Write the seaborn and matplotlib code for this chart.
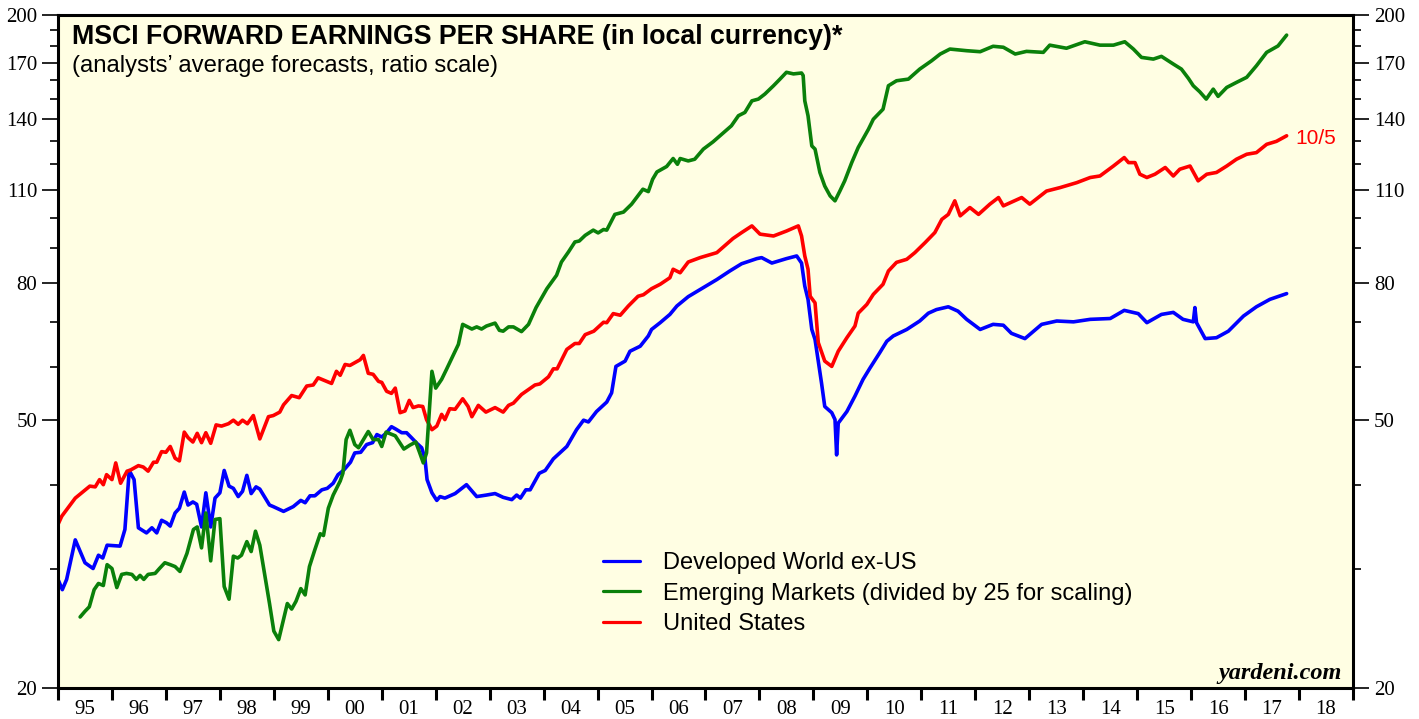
import numpy as np
import pandas as pd
import matplotlib
matplotlib.use("Agg")
import matplotlib.pyplot as plt
import seaborn as sns
from matplotlib.ticker import FixedLocator, NullFormatter, FixedFormatter
from matplotlib.lines import Line2D

# ---------------- data ----------------
us_year = [1995.00,1995.07,1995.32,1995.59,1995.69,1995.77,1995.84,1995.90,1996.00,1996.07,
           1996.16,1996.28,1996.33,1996.49,1996.58,1996.67,1996.77,1996.83,1996.92,1997.00,
           1997.08,1997.17,1997.25,1997.34,1997.41,1997.50,1997.58,1997.66,1997.74,1997.83,
           1997.93,1998.03,1998.16,1998.25,1998.34,1998.42,1998.51,1998.62,1998.74,1998.90,
           1998.99,1999.11,1999.18,1999.33,1999.47,1999.61,1999.73,1999.82,2000.07,2000.16,
           2000.23,2000.32,2000.41,2000.60,2000.66,2000.75,2000.84,2000.94,2001.00,2001.09,
           2001.18,2001.25,2001.34,2001.43,2001.51,2001.58,2001.68,2001.76,2001.83,2001.93,
           2002.02,2002.11,2002.17,2002.26,2002.36,2002.50,2002.60,2002.67,2002.79,2002.93,
           2003.10,2003.25,2003.35,2003.44,2003.59,2003.84,2003.93,2004.09,2004.18,2004.25,
           2004.43,2004.58,2004.66,2004.77,2004.93,2005.11,2005.17,2005.29,2005.42,2005.57,
           2005.75,2005.85,2006.00,2006.16,2006.34,2006.40,2006.53,2006.68,2006.90,2007.21,
           2007.39,2007.51,2007.67,2007.86,2008.01,2008.26,2008.50,2008.72,2008.78,2008.84,
           2008.90,2008.94,2009.03,2009.09,2009.21,2009.34,2009.46,2009.62,2009.77,2009.83,
           2009.99,2010.11,2010.29,2010.39,2010.54,2010.73,2010.88,2011.07,2011.25,2011.38,
           2011.50,2011.62,2011.72,2011.90,2012.06,2012.27,2012.43,2012.52,2012.86,2013.01,
           2013.32,2013.57,2013.88,2014.13,2014.31,2014.56,2014.76,2014.84,2014.96,2015.05,
           2015.18,2015.33,2015.52,2015.67,2015.79,2015.98,2016.13,2016.29,2016.47,2016.66,
           2016.84,2017.03,2017.21,2017.40,2017.58,2017.77]
us_eps = [35.0,36.0,38.3,39.9,39.8,40.8,40.1,41.5,40.8,43.2,
          40.3,42.0,42.1,42.8,42.6,42.0,43.3,43.3,44.9,44.8,
          45.7,43.9,43.5,48.0,47.1,46.4,47.8,46.3,47.9,46.2,
          49.2,49.0,49.4,50.0,49.3,50.0,49.4,50.8,46.9,50.6,
          50.8,51.4,52.7,54.4,54.0,56.2,56.4,57.8,56.7,59.1,
          58.3,60.5,60.3,61.5,62.4,58.7,58.5,57.1,56.9,55.2,
          54.8,55.8,51.3,51.6,53.5,52.2,52.5,52.4,50.1,48.4,
          49.0,51.0,50.1,52.0,51.9,53.8,52.4,50.6,52.6,51.4,
          52.2,51.4,52.6,53.0,54.6,56.4,56.6,58.0,59.6,59.6,
          63.7,65.0,65.0,67.0,67.8,69.9,69.8,72.0,71.6,73.9,
          76.4,76.8,78.4,79.6,81.4,83.8,82.8,85.9,87.2,88.7,
          91.3,93.1,95.0,97.2,94.5,93.9,95.5,97.2,93.9,87.7,
          83.8,76.4,74.7,65.2,61.2,60.1,63.3,66.3,69.0,72.1,
          74.3,76.9,79.6,83.3,85.8,86.7,88.7,91.8,95.0,99.4,
          101.1,105.9,100.6,103.5,101.1,104.7,107.1,104.1,107.1,104.7,
          109.5,110.8,112.7,114.7,115.3,119.3,122.8,120.7,120.7,116.0,
          114.7,116.0,118.7,115.3,118.0,119.3,113.4,116.0,116.7,119.3,
          122.1,124.2,124.9,128.5,129.8,132.3]

dev_year = [1995.00,1995.08,1995.16,1995.32,1995.50,1995.65,1995.75,1995.83,1995.91,1996.15,
            1996.24,1996.32,1996.41,1996.49,1996.64,1996.74,1996.83,1996.92,1997.01,1997.08,
            1997.17,1997.25,1997.34,1997.41,1997.50,1997.57,1997.66,1997.74,1997.83,1997.91,
            1998.00,1998.08,1998.17,1998.25,1998.34,1998.42,1998.50,1998.58,1998.67,1998.74,
            1998.92,1998.99,1999.18,1999.36,1999.50,1999.58,1999.67,1999.76,1999.89,1999.99,
            2000.10,2000.19,2000.29,2000.42,2000.50,2000.61,2000.72,2000.83,2000.91,2001.00,
            2001.09,2001.18,2001.26,2001.37,2001.46,2001.55,2001.65,2001.74,2001.80,2001.84,
            2001.93,2002.02,2002.08,2002.17,2002.36,2002.57,2002.76,2002.94,2003.10,2003.25,
            2003.41,2003.50,2003.57,2003.67,2003.75,2003.92,2004.03,2004.18,2004.43,2004.61,
            2004.74,2004.83,2004.98,2005.17,2005.26,2005.34,2005.51,2005.60,2005.79,2005.94,
            2006.00,2006.16,2006.34,2006.47,2006.68,2006.96,2007.21,2007.45,2007.67,2007.95,
            2008.04,2008.23,2008.50,2008.69,2008.78,2008.84,2008.90,2008.97,2009.03,2009.15,
            2009.21,2009.34,2009.40,2009.43,2009.46,2009.62,2009.77,2009.92,2010.05,2010.23,
            2010.36,2010.48,2010.73,2010.97,2011.13,2011.28,2011.50,2011.68,2011.84,2012.09,
            2012.33,2012.52,2012.67,2012.92,2013.23,2013.51,2013.82,2014.13,2014.50,2014.76,
            2015.02,2015.18,2015.45,2015.67,2015.85,2016.04,2016.07,2016.10,2016.26,2016.47,
            2016.69,2016.97,2017.21,2017.46,2017.77]
dev_eps = [29.0,28.0,29.0,33.2,30.7,30.1,31.5,31.2,32.6,32.5,
           34.4,42.1,40.8,34.6,34.0,34.6,34.0,35.5,35.2,34.8,
           36.4,37.0,39.1,37.4,37.8,37.5,34.7,39.0,34.7,38.3,
           39.0,42.1,39.9,39.6,38.5,39.2,41.4,38.9,39.8,39.5,
           37.4,37.2,36.6,37.2,38.0,37.7,38.6,38.6,39.4,39.6,
           40.3,41.5,42.1,43.3,44.7,44.8,46.0,46.3,47.6,47.2,
           47.9,48.9,48.5,47.9,47.9,47.1,46.2,45.5,43.9,40.8,
           39.0,38.0,38.5,38.3,38.9,40.1,38.5,38.7,38.9,38.4,
           38.1,38.7,38.3,39.4,39.4,41.7,42.1,43.8,45.7,48.4,
           50.0,49.7,51.5,53.2,54.9,60.1,61.2,63.3,64.4,66.7,
           68.2,69.8,71.8,73.9,76.3,78.7,80.9,83.3,85.4,86.9,
           87.2,85.6,86.9,87.7,85.6,79.1,75.6,68.2,65.9,56.8,
           52.4,51.3,50.1,44.4,49.5,51.5,54.3,57.5,59.8,63.0,
           65.5,66.7,68.2,70.2,72.1,73.0,73.7,72.6,70.6,68.2,
           69.4,69.2,67.3,66.1,69.4,70.2,70.0,70.6,70.8,72.8,
           72.0,69.8,71.8,72.3,70.6,70.0,73.5,69.8,66.1,66.3,
           67.8,71.4,73.7,75.6,77.1]

em_year = [1995.41,1995.50,1995.58,1995.67,1995.75,1995.84,1995.91,1996.00,1996.09,1996.18,
           1996.27,1996.37,1996.45,1996.52,1996.59,1996.67,1996.80,1996.88,1996.98,1997.08,
           1997.17,1997.26,1997.39,1997.51,1997.58,1997.66,1997.74,1997.83,1997.91,1998.00,
           1998.08,1998.17,1998.25,1998.33,1998.40,1998.50,1998.58,1998.66,1998.74,1998.92,
           1999.00,1999.09,1999.25,1999.33,1999.41,1999.50,1999.58,1999.66,1999.76,1999.86,
           1999.92,2000.01,2000.10,2000.23,2000.28,2000.34,2000.41,2000.50,2000.57,2000.75,
           2000.84,2000.94,2001.00,2001.08,2001.25,2001.41,2001.52,2001.63,2001.70,2001.77,
           2001.83,2001.88,2001.93,2002.00,2002.11,2002.20,2002.33,2002.42,2002.50,2002.67,
           2002.76,2002.85,2002.94,2003.10,2003.18,2003.25,2003.35,2003.44,2003.59,2003.72,
           2003.86,2004.06,2004.24,2004.33,2004.46,2004.58,2004.66,2004.77,2004.92,2005.01,
           2005.11,2005.17,2005.32,2005.48,2005.63,2005.84,2005.94,2006.02,2006.10,2006.28,
           2006.40,2006.48,2006.53,2006.68,2006.80,2006.96,2007.14,2007.30,2007.48,2007.61,
           2007.73,2007.86,2007.98,2008.10,2008.26,2008.38,2008.50,2008.63,2008.78,2008.81,
           2008.84,2008.90,2008.97,2009.03,2009.12,2009.21,2009.31,2009.40,2009.49,2009.58,
           2009.71,2009.83,2010.02,2010.11,2010.29,2010.39,2010.54,2010.76,2010.97,2011.19,
           2011.35,2011.53,2011.84,2012.09,2012.33,2012.52,2012.74,2012.95,2013.26,2013.38,
           2013.69,2014.03,2014.31,2014.56,2014.77,2014.93,2015.08,2015.30,2015.45,2015.67,
           2015.82,2015.95,2016.04,2016.16,2016.28,2016.41,2016.50,2016.66,2016.84,2017.03,
           2017.21,2017.40,2017.61,2017.77]
em_eps_div25 = [25.5,26.0,26.4,28.0,28.6,28.4,30.5,30.1,28.2,29.5,
                29.6,29.5,29.0,29.4,29.0,29.5,29.6,30.1,30.7,30.5,
                30.3,29.8,31.7,34.4,34.7,32.3,36.4,30.9,35.6,35.7,
                28.3,27.1,31.4,31.2,31.5,33.0,31.9,34.2,32.6,26.7,
                24.3,23.6,26.7,26.2,26.9,28.1,27.5,30.3,32.1,33.9,
                33.7,37.0,38.7,40.6,41.7,46.8,48.3,46.0,45.5,48.1,
                46.8,46.8,45.7,48.0,47.4,45.3,45.9,46.4,44.8,43.2,
                44.7,51.5,59.1,55.8,57.5,59.5,62.6,64.8,69.4,68.3,
                68.8,68.3,69.0,69.7,68.0,67.8,68.8,68.8,67.7,69.4,
                73.5,78.4,82.1,85.9,88.9,92.0,92.3,94.1,95.8,94.9,
                96.0,95.8,101.1,101.9,104.7,110.2,109.3,114.0,116.9,119.1,
                122.4,120.0,122.4,121.4,122.1,126.4,129.6,133.0,136.9,141.7,
                143.3,149.1,150.0,152.6,157.0,160.6,164.4,163.5,164.0,162.6,
                149.1,141.7,127.8,126.4,116.7,111.4,107.7,105.9,109.5,113.4,
                120.7,127.1,135.3,140.0,144.9,157.0,159.7,160.6,166.2,171.0,
                175.0,178.0,177.0,176.4,179.7,179.1,175.0,176.6,176.0,180.4,
                178.5,182.5,180.4,180.4,182.5,178.0,173.0,172.0,173.6,169.1,
                166.2,161.0,157.0,153.8,150.0,155.2,151.4,156.1,158.8,161.6,
                168.1,176.0,179.9,186.7]

series_names = ["Developed World ex-US",
                "Emerging Markets (divided by 25 for scaling)",
                "United States"]
series_colors = ["#0000FF", "#0A800A", "#FF0000"]
year_labels = ["95","96","97","98","99","00","01","02","03","04","05","06",
               "07","08","09","10","11","12","13","14","15","16","17","18"]
y_major = [20, 50, 80, 110, 140, 170, 200]
y_minor = [30, 40, 60, 70, 90, 100, 120, 130, 150, 160, 180, 190]
last_date_label = "10/5"

# ---------------- build frame ----------------
df = pd.concat([
    pd.DataFrame({"year": dev_year, "value": dev_eps, "series": series_names[0]}),
    pd.DataFrame({"year": us_year, "value": us_eps, "series": series_names[2]}),
    pd.DataFrame({"year": em_year, "value": em_eps_div25, "series": series_names[1]}),
], ignore_index=True)

sns.set_theme(style="white")
plt.rcParams["font.family"] = ["Liberation Sans", "DejaVu Sans"]
plt.rcParams["text.color"] = "black"

W, H = 1419, 719
fig = plt.figure(figsize=(W / 100, H / 100), dpi=100)
fig.patch.set_facecolor("white")
ax = fig.add_axes([58 / W, 1 - 688 / H, (1353 - 58) / W, (688 - 15) / H])
ax.set_facecolor("#FFFEE3")

palette = dict(zip(series_names, series_colors))
sns.lineplot(data=df, x="year", y="value", hue="series",
             hue_order=[series_names[0], series_names[2], series_names[1]],
             palette=palette, estimator=None, sort=False, linewidth=2.6,
             legend=False, ax=ax)

ax.set_yscale("log")
ax.set_ylim(y_major[0], y_major[-1])
ax.set_xlim(1995, 2019)
ax.set_xlabel("")
ax.set_ylabel("")

ax.yaxis.set_major_locator(FixedLocator(y_major))
ax.yaxis.set_major_formatter(FixedFormatter([str(v) for v in y_major]))
ax.yaxis.set_minor_locator(FixedLocator(y_minor))
ax.yaxis.set_minor_formatter(NullFormatter())

years = np.arange(1995, 2020)
ax.xaxis.set_major_locator(FixedLocator(years))
ax.xaxis.set_major_formatter(NullFormatter())
ax.xaxis.set_minor_locator(FixedLocator(years[:-1] + 0.5))
ax.xaxis.set_minor_formatter(FixedFormatter(year_labels))

ax.tick_params(axis="y", which="major", direction="out", length=11.5, width=1.2,
               left=True, right=True, labelleft=True, labelright=True,
               labelsize=15, pad=3.5, colors="black", labelfontfamily="Liberation Serif")
ax.tick_params(axis="y", which="minor", direction="out", length=5.8, width=1.2,
               left=True, right=True, colors="black")
ax.tick_params(axis="x", which="major", direction="out", length=8.6, width=2.2,
               bottom=True, labelbottom=False, colors="black")
ax.tick_params(axis="x", which="minor", direction="out", length=0, bottom=True,
               labelbottom=True, labelsize=15, pad=9, colors="black",
               labelfontfamily="Liberation Serif")

for side in ["left", "right", "bottom", "top"]:
    ax.spines[side].set_visible(True)
    ax.spines[side].set_color("black")
    ax.spines[side].set_linewidth(2.2)
ax.grid(False)

# titles
fig.text(72 / W, 1 - 37 / H, "MSCI FORWARD EARNINGS PER SHARE (in local currency)*",
         fontsize=19.3, fontweight="bold", ha="left", va="center", color="black")
fig.text(72 / W, 1 - 66 / H, "(analysts\u2019 average forecasts, ratio scale)",
         fontsize=17.2, ha="left", va="center", color="black")

# legend
handles = [Line2D([], [], color=c, linewidth=2.3) for c in series_colors]
leg = fig.legend(handles, series_names, loc="upper left",
                 bbox_to_anchor=(603 / W, 1 - 552 / H), frameon=False,
                 fontsize=17, handlelength=1.57, handletextpad=0.97,
                 labelspacing=0.37, borderpad=0, borderaxespad=0)
for t in leg.get_texts():
    t.set_color("black")

# end label
ax.annotate(last_date_label, xy=(us_year[-1], us_eps[-1]), xytext=(6, -2),
            textcoords="offset points", color="#FF0000", fontsize=15,
            ha="left", va="center")

ax.text(0.9915, 0.013, "yardeni.com", transform=ax.transAxes, ha="right",
        va="baseline", fontsize=17.5, fontweight="bold", fontstyle="italic",
        family="Liberation Serif", color="black")

fig.savefig("out.png", dpi=100)
